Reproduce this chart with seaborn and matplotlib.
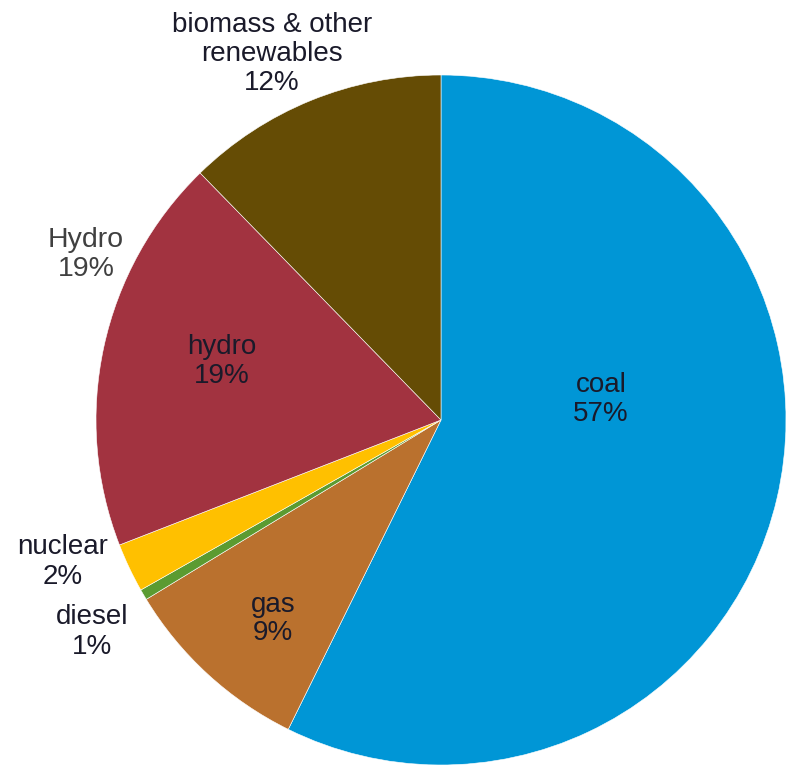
import matplotlib
matplotlib.use("Agg")
import matplotlib.pyplot as plt
import seaborn as sns

sns.set_theme(style="white")
plt.rcParams['font.family'] = ['Liberation Sans', 'DejaVu Sans']

categories = ["coal", "gas", "diesel", "nuclear", "hydro", "biomass & other\nrenewables"]
values = [57.3, 9.0, 0.5, 2.3, 18.6, 12.3]
pct_labels = ["57%", "9%", "1%", "2%", "19%", "12%"]
colors = ["#0096D6", "#BA712E", "#5B9B31", "#FFC000", "#A23340", "#654C05"]

W, H = 794, 769
CX, CY, R = 441, 420, 345

fig = plt.figure(figsize=(W / 100, H / 100), dpi=100)
ax = fig.add_axes([0, 0, 1, 1])
ax.pie(values, colors=colors, startangle=90, counterclock=False, radius=1,
       wedgeprops=dict(edgecolor="white", linewidth=0.4))
ax.set_xlim(-CX / R, (W - CX) / R)
ax.set_ylim(-(H - CY) / R, CY / R)
ax.set_aspect("equal")
ax.axis("off")


def px(x, y):
    return (x - CX) / R, (CY - y) / R


# label anchor positions (pixels in the reference image)
label_pos = {
    "coal": (601, 399),
    "gas": (273, 619),
    "diesel": (92, 632),
    "nuclear": (63, 562),
    "hydro": (222, 361),
    "biomass & other\nrenewables": (272, 54),
}
text_color = "#1a1a2a"
for cat, pct in zip(categories, pct_labels):
    x, y = px(*label_pos[cat])
    ax.text(x, y, f"{cat}\n{pct}", ha="center", va="center", fontsize=20,
            color=text_color, linespacing=1.15)

# extra outside label as in the reference
hx, hy = px(86, 254)
ax.text(hx, hy, "Hydro\n19%", ha="center", va="center", fontsize=20.5,
        color="#404040", linespacing=1.15)

fig.savefig("out.png", dpi=100, facecolor="white")
